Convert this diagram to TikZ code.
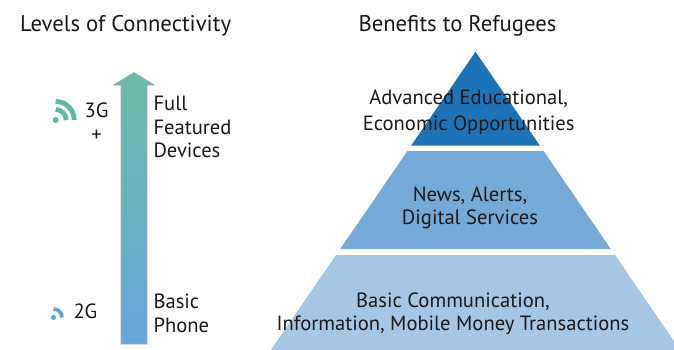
\documentclass[tikz,border=0pt]{standalone}
\usepackage{fontspec}
\setmainfont{PT Sans}
\usepackage{tikz}

\definecolor{tiertop}{HTML}{1E72B8}
\definecolor{tiermid}{HTML}{76AAD6}
\definecolor{tierbase}{HTML}{A6C7E4}
\definecolor{signalteal}{HTML}{5DBAA0}
\definecolor{signalblue}{HTML}{5AA5DA}
\definecolor{arrowtop}{HTML}{6DBCA8}
\definecolor{arrowbottom}{HTML}{68A6DB}

\begin{document}
\begin{tikzpicture}[x=1pt, y=-1pt,
    txt/.style={font=\fontsize{20.6}{23.5}\selectfont, text=black!90, inner sep=0pt, align=center},
    title/.style={txt, font=\fontsize{22.7}{26}\selectfont},
    signal/.style={line width=4.8pt}]
    \useasboundingbox (0,0) rectangle (674,349);
    \clip (0,0) rectangle (674,349);

    \node [title, anchor=base west] at (20,31.7) (leftTitle) {Levels of Connectivity};
    \node [title, anchor=base west] at (358.3,31.7) (rightTitle) {Benefits to Refugees};

    \shade [top color=arrowtop, bottom color=arrowbottom, draw=black!35, line width=0.6pt]
        (121,344) -- (121,85) -- (113.5,85) -- (134,72.5) -- (154.5,85) -- (147,85) -- (147,344) -- cycle;
    \node [txt, anchor=base west, align=left] at (153.3,157.5) (full) {Full\\Featured\\Devices};
    \node [txt, anchor=base west, align=left] at (153.3,332.2) (basic) {Basic\\Phone};

    \coordinate (dotThree) at (55.7,120);
    \fill [signalteal] (dotThree) circle (3);
    \draw [signal, signalteal] (dotThree) ++(0,-10.5) arc[start angle=-90, end angle=0, radius=10.5];
    \draw [signal, signalteal] (dotThree) ++(0,-18.5) arc[start angle=-90, end angle=0, radius=18.5];
    \node [txt, anchor=base] at (96.5,141) (three) {3G\\+};

    \coordinate (dotTwo) at (53.5,317.5);
    \fill [signalblue] (dotTwo) circle (2.6);
    \draw [line width=3.6pt, signalblue] (dotTwo) ++(0,-8.5) arc[start angle=-90, end angle=0, radius=8.5];
    \node [txt, anchor=base west] at (73.3,318.8) (two) {2G};

    \fill [tiertop] (475.5,51.7) -- (539.8,145.5) -- (411.2,145.5) -- cycle;
    \fill [tiermid] (407.4,151) -- (543.6,151) -- (610.8,249) -- (340.2,249) -- cycle;
    \fill [tierbase] (336,255) -- (615,255) -- (687,360) -- (264,360) -- cycle;

    \node [txt, anchor=base] at (468.7,130.5) (advanced) {Advanced Educational,\\[2.5pt]Economic Opportunities};
    \node [txt, anchor=base] at (470,224.8) (news) {News, Alerts,\\Digital Services};
    \node [txt, anchor=base] at (453,330.5) (comm) {Basic Communication,\\Information, Mobile Money Transactions};
\end{tikzpicture}
\end{document}
